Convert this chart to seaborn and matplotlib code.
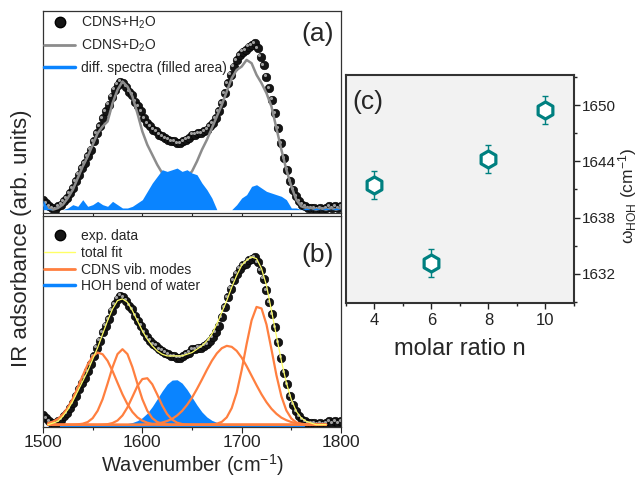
import numpy as np
import matplotlib
matplotlib.use('Agg')
import matplotlib.pyplot as plt
import seaborn as sns
from matplotlib.lines import Line2D
from matplotlib.ticker import MultipleLocator
from matplotlib.transforms import offset_copy

# experimental spectrum CDNS+H2O (same data in panels a and b)
wn_exp = np.arange(1500, 1801, 3)
abs_exp = [0.06, 0.04, 0.02, 0.01, 0.00, 0.02, 0.03, 0.05, 0.07, 0.10,
           0.13, 0.17, 0.21, 0.25, 0.28, 0.32, 0.36, 0.41, 0.46, 0.50,
           0.55, 0.59, 0.63, 0.68, 0.72, 0.75, 0.77, 0.76, 0.74, 0.71,
           0.69, 0.65, 0.62, 0.59, 0.55, 0.52, 0.50, 0.48, 0.47, 0.45,
           0.44, 0.43, 0.42, 0.41, 0.41, 0.40, 0.40, 0.41, 0.42, 0.43,
           0.45, 0.45, 0.46, 0.46, 0.47, 0.48, 0.50, 0.52, 0.55, 0.59,
           0.64, 0.70, 0.76, 0.81, 0.86, 0.90, 0.93, 0.95, 0.96, 0.98,
           0.99, 1.00, 0.97, 0.92, 0.87, 0.80, 0.73, 0.66, 0.58, 0.49,
           0.40, 0.31, 0.24, 0.17, 0.12, 0.08, 0.05, 0.03, 0.02, 0.01,
           0.01, 0.01, 0.00, 0.01, 0.00, 0.01, 0.02, 0.01, 0.02, 0.01,
           0.02]

# CDNS+D2O and difference spectrum (panel a)
wn_d2o = np.arange(1500, 1801, 5)
abs_d2o = [0.03, 0.01, 0.00, 0.01, 0.03, 0.07, 0.12, 0.19, 0.26, 0.32,
           0.39, 0.46, 0.50, 0.53, 0.64, 0.72, 0.77, 0.74, 0.68, 0.58,
           0.47, 0.39, 0.33, 0.27, 0.22, 0.20, 0.19, 0.19, 0.19, 0.20,
           0.23, 0.29, 0.36, 0.42, 0.49, 0.56, 0.63, 0.71, 0.79, 0.84,
           0.86, 0.90, 0.88, 0.81, 0.76, 0.70, 0.62, 0.49, 0.36, 0.24,
           0.14, 0.06, 0.02, 0.01, 0.01, 0.00, 0.01, 0.00, 0.01, 0.00,
           0.01]
diff = [0.058, 0.008, 0.00, 0.00, 0.00, 0.01, 0.03, 0.02, 0.06, 0.02,
        0.03, 0.05, 0.03, 0.02, 0.05, 0.03, 0.01, 0.01, 0.02, 0.04,
        0.06, 0.11, 0.16, 0.20, 0.24, 0.23, 0.24, 0.25, 0.23, 0.24,
        0.22, 0.21, 0.16, 0.12, 0.07, 0.00, 0.00, 0.00, 0.00, 0.03,
        0.07, 0.09, 0.14, 0.15, 0.13, 0.11, 0.10, 0.09, 0.08, 0.06,
        0.01, 0.01, 0.00, 0.01, 0.00, 0.01, 0.00, 0.01, 0.00, 0.01,
        0.00]

# fit components (panel b)
wn_fit = np.arange(1505, 1786, 5)
cdns_1 = [0.009, 0.018, 0.035, 0.062, 0.102, 0.156, 0.222, 0.293, 0.359, 0.407,
          0.430, 0.420, 0.381, 0.320, 0.250, 0.181, 0.122, 0.076, 0.044, 0.024,
          0.012, 0.005, 0.002, 0.001] + [0.0] * 33
cdns_2 = [0.0] * 6 + [0.002, 0.006, 0.016, 0.039, 0.083, 0.152, 0.245, 0.343, 0.421, 0.450,
                      0.421, 0.343, 0.245, 0.152, 0.083, 0.039, 0.016, 0.006, 0.002] + [0.0] * 32
cdns_3 = [0.0] * 11 + [0.001, 0.003, 0.010, 0.025, 0.055, 0.103, 0.166, 0.230, 0.272, 0.277,
                       0.241, 0.180, 0.115, 0.063, 0.030, 0.012, 0.004, 0.001] + [0.0] * 28
cdns_4 = [0.0] * 19 + [0.001, 0.002, 0.004, 0.007, 0.013, 0.022, 0.035, 0.055, 0.082, 0.118,
                       0.161, 0.213, 0.269, 0.327, 0.381, 0.425, 0.456, 0.470, 0.464, 0.440,
                       0.400, 0.349, 0.292, 0.235, 0.181, 0.134, 0.095, 0.065, 0.042, 0.027,
                       0.016, 0.009, 0.005, 0.003, 0.001, 0.0, 0.0, 0.0]
cdns_5 = [0.0] * 33 + [0.002, 0.006, 0.017, 0.044, 0.099, 0.191, 0.325, 0.481, 0.622, 0.702,
                       0.693, 0.597, 0.449, 0.295, 0.169, 0.085, 0.037, 0.014, 0.005, 0.001] + [0.0] * 4
hoh_bend = [0.0] * 12 + [0.001, 0.002, 0.003, 0.004, 0.007, 0.013, 0.024, 0.042, 0.069, 0.108,
                         0.154, 0.201, 0.242, 0.266, 0.268, 0.248, 0.210, 0.164, 0.117, 0.076,
                         0.046, 0.026, 0.014, 0.007, 0.004, 0.003, 0.002, 0.001] + [0.0] * 17
total_fit = [0.00, 0.01, 0.02, 0.05, 0.09, 0.14, 0.20, 0.26, 0.32, 0.39,
             0.46, 0.54, 0.62, 0.69, 0.74, 0.75, 0.73, 0.68, 0.62, 0.56,
             0.51, 0.47, 0.44, 0.42, 0.41, 0.41, 0.41, 0.41, 0.42, 0.43,
             0.45, 0.47, 0.50, 0.54, 0.60, 0.67, 0.74, 0.82, 0.89, 0.95,
             0.98, 1.00, 0.99, 0.93, 0.83, 0.68, 0.53, 0.38, 0.25, 0.15,
             0.08, 0.04, 0.02, 0.01, 0.00, 0.00, 0.00]

# panel c: HOH bend position vs molar ratio
molar_ratio = [4, 6, 8, 10]
omega_hoh = [1641.5, 1633.2, 1644.2, 1649.5]
omega_err = [1.5, 1.5, 1.5, 1.5]

sns.set_theme(style='ticks')
plt.rcParams['font.family'] = ['Liberation Sans', 'DejaVu Sans']
plt.rcParams['mathtext.fontset'] = 'custom'
plt.rcParams['mathtext.rm'] = 'Liberation Sans'
plt.rcParams['mathtext.it'] = 'Liberation Sans:italic'
plt.rcParams['mathtext.bf'] = 'Liberation Sans:bold'
plt.rcParams['mathtext.default'] = 'regular'

blue = '#0a84ff'
orange = '#ff7f3f'
gray = '#8c8c8c'
yellow = '#ffff66'
teal = '#008080'

fig = plt.figure(figsize=(6.43, 4.80), dpi=100)
ax_a = fig.add_axes([0.0669, 0.5556, 0.4634, 0.4215])
ax_b = fig.add_axes([0.0669, 0.111, 0.4634, 0.439])
ax_c = fig.add_axes([0.538, 0.3688, 0.3547, 0.475])


def ball_dots(ax):
    sns.scatterplot(x=wn_exp, y=abs_exp, ax=ax, color='#151515', s=38,
                    edgecolor='black', linewidth=0.4, legend=False, zorder=2)
    shine = offset_copy(ax.transData, fig=fig, x=-1.0, y=1.0, units='points')
    sns.scatterplot(x=wn_exp, y=abs_exp, ax=ax, color='#a0a0a0', s=5,
                    linewidth=0, legend=False, transform=shine, zorder=2.1)


def ball_handle():
    return Line2D([], [], ls='none', marker='o', ms=7.5, mfc='#151515', mec='black')


# (a)
ylim_a = (-0.022, 1.194)
ball_dots(ax_a)
sns.lineplot(x=wn_d2o, y=abs_d2o, ax=ax_a, color=gray, lw=1.8, sort=False,
             estimator=None, legend=False, zorder=3)
ax_a.fill_between(wn_d2o, 0, diff, color=blue, lw=0, zorder=4)
ax_a.set_ylim(*ylim_a)
handles_a = [ball_handle(),
             Line2D([], [], color=gray, lw=2),
             Line2D([], [], color=blue, lw=2.5)]
ax_a.legend(handles_a, ['CDNS+H$_2$O', 'CDNS+D$_2$O', 'diff. spectra (filled area)'],
            loc='upper left', bbox_to_anchor=(0.0, 0.99), frameon=False, fontsize=10,
            handlelength=2.2, handletextpad=0.45, labelspacing=0.5, borderpad=0.1,
            borderaxespad=0.0)
ax_a.text(0.975, 0.886, '(a)', transform=ax_a.transAxes, ha='right', va='center', fontsize=19)

# (b)
ylim_b = (-0.012, 1.244)
ax_b.fill_between(wn_fit, ylim_b[0], hoh_bend, color=blue, lw=0, zorder=1)
ball_dots(ax_b)
for comp in [cdns_1, cdns_2, cdns_3, cdns_4, cdns_5]:
    sns.lineplot(x=wn_fit, y=comp, ax=ax_b, color=orange, lw=1.6, sort=False,
                 estimator=None, legend=False, zorder=3)
sns.lineplot(x=wn_fit, y=total_fit, ax=ax_b, color=yellow, lw=0.9, sort=False,
             estimator=None, legend=False, zorder=4)
ax_b.set_ylim(*ylim_b)
handles_b = [ball_handle(),
             Line2D([], [], color=yellow, lw=1),
             Line2D([], [], color=orange, lw=2),
             Line2D([], [], color=blue, lw=2.5)]
ax_b.legend(handles_b, ['exp. data', 'total fit', 'CDNS vib. modes', 'HOH bend of water'],
            loc='upper left', bbox_to_anchor=(0.0, 0.945), frameon=False, fontsize=10,
            handlelength=2.2, handletextpad=0.45, labelspacing=0.2, borderpad=0.1,
            borderaxespad=0.0)
ax_b.text(0.975, 0.815, '(b)', transform=ax_b.transAxes, ha='right', va='center', fontsize=19)

for ax in (ax_a, ax_b):
    ax.set_xlim(1500, 1800)
    ax.set_yticks([])
    ax.set_xticks([1500, 1600, 1700, 1800])
    ax.xaxis.set_minor_locator(MultipleLocator(50))
    ax.tick_params(axis='x', which='major', direction='out', length=4, width=0.8,
                   colors='#222', labelsize=12.5, pad=2)
    ax.tick_params(axis='x', which='minor', direction='out', length=2.5, width=0.8,
                   colors='#222')
    for sp in ax.spines.values():
        sp.set_visible(True)
        sp.set_color('#333')
        sp.set_linewidth(0.9)
    ax.set_xlabel('')
    ax.set_ylabel('')
ax_a.tick_params(axis='x', labelbottom=False)
fig.text(192 / 643, 0.004, 'Wavenumber (cm$^{-1}$)', ha='center', va='bottom', fontsize=14.5)
fig.text(0.034, 1 - 238 / 480, 'IR adsorbance (arb. units)', rotation=90,
         ha='center', va='center', fontsize=16)

# (c)
ax_c.set_facecolor('#f2f2f2')
ax_c.errorbar(molar_ratio, omega_hoh, yerr=omega_err, fmt='none', ecolor=teal,
              elinewidth=1, capsize=2, capthick=1, zorder=2)
sns.scatterplot(x=molar_ratio, y=omega_hoh, ax=ax_c, marker='h', s=150, color='white',
                edgecolor=teal, linewidth=2.3, legend=False, zorder=3)
ax_c.set_xlim(3, 11)
ax_c.set_ylim(1628.9, 1653.2)
ax_c.set_xticks([4, 6, 8, 10])
ax_c.xaxis.set_minor_locator(MultipleLocator(1))
ax_c.yaxis.tick_right()
ax_c.yaxis.set_label_position('right')
ax_c.set_yticks([1632, 1638, 1644, 1650])
ax_c.yaxis.set_minor_locator(MultipleLocator(3))
ax_c.tick_params(axis='x', which='major', labelsize=12)
ax_c.tick_params(axis='y', which='major', labelsize=11, pad=2)
ax_c.tick_params(axis='both', which='major', direction='out', length=4, width=1,
                 colors='#222')
ax_c.tick_params(axis='both', which='minor', direction='out', length=2.5, width=1,
                 colors='#222')
for sp in ax_c.spines.values():
    sp.set_visible(True)
    sp.set_color('#333')
    sp.set_linewidth(1.5)
ax_c.set_xlabel('molar ratio n', fontsize=17, labelpad=7)
ax_c.set_ylabel(r'$\omega_{HOH}$ (cm$^{-1}$)', fontsize=12.5)
ax_c.yaxis.set_label_coords(1.186, 0.47)
ax_c.text(0.03, 0.88, '(c)', transform=ax_c.transAxes, ha='left', va='center', fontsize=19)

fig.savefig('out.png', dpi=100)
